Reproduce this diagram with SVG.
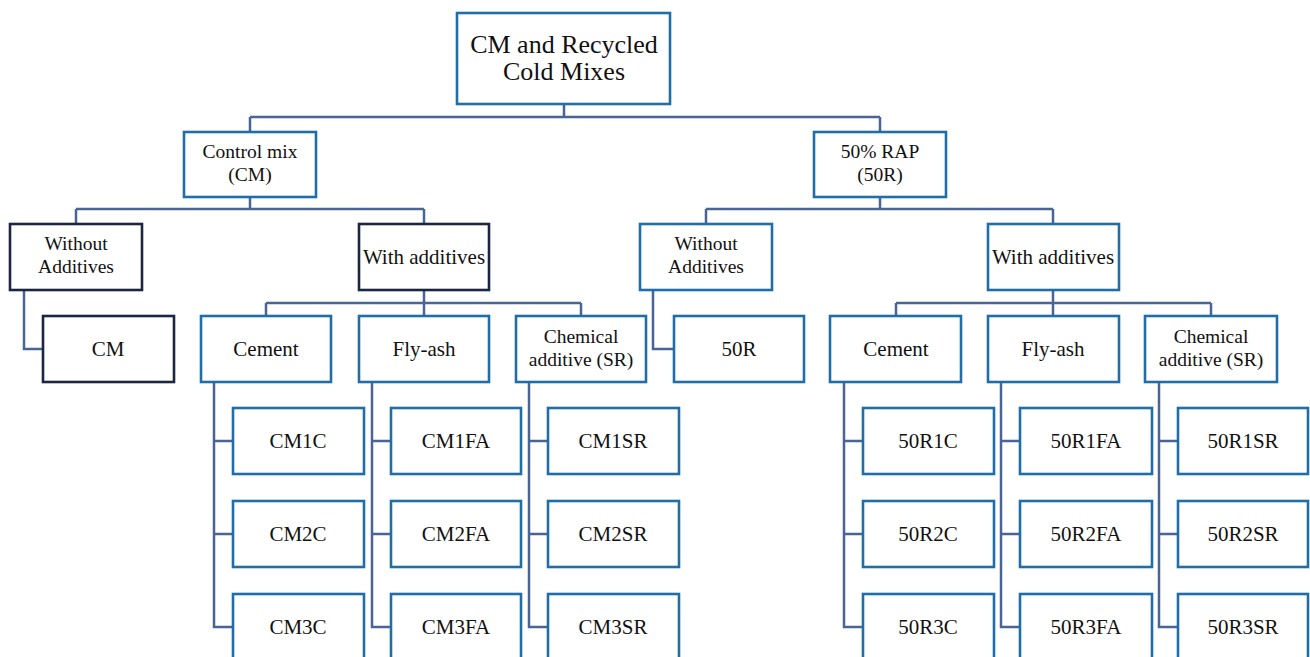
<svg xmlns="http://www.w3.org/2000/svg" width="1310" height="657" viewBox="0 0 1310 657">
<style>
  .b{fill:#fff;stroke:#1f6ea8;stroke-width:2.6}
  .d{fill:#fff;stroke:#1b2642;stroke-width:2.6}
  .c{fill:none;stroke:#4a6496;stroke-width:2.5}
  text{font-family:"Liberation Serif","Times New Roman",serif;font-size:21px;fill:#111;text-anchor:middle}
  .r{font-size:26px}
  .t{font-size:19.5px}
</style>
<rect width="1310" height="657" fill="#fff"/>
<g id="connectors">
  <path class="c" d="M564 104V117M250 117H880M250 117V132M880 117V132"/>
  <path class="c" d="M250 197V209M76 209H424M76 209V224M424 209V224"/>
  <path class="c" d="M880 197V209M706 209H1053M706 209V224M1053 209V224"/>
  <path class="c" d="M24 290V349H43"/>
  <path class="c" d="M653 290V349H674"/>
  <path class="c" d="M424 290V303M266 303H581M266 303V316M424 303V316M581 303V316"/>
  <path class="c" d="M1053 290V303M896 303H1211M896 303V316M1053 303V316M1211 303V316"/>
  <path class="c" d="M214 382V627H233M214 441H233M214 534H233"/>
  <path class="c" d="M372 382V627H391M372 441H391M372 534H391"/>
  <path class="c" d="M529 382V627H548M529 441H548M529 534H548"/>
  <path class="c" d="M844 382V627H863M844 441H863M844 534H863"/>
  <path class="c" d="M1001 382V627H1020M1001 441H1020M1001 534H1020"/>
  <path class="c" d="M1159 382V627H1178M1159 441H1178M1159 534H1178"/>
</g>
<g id="root"><rect class="b" x="457" y="13" width="213" height="91"/><text class="r" x="564" y="53">CM and Recycled</text><text class="r" x="564" y="80">Cold Mixes</text></g>
<g id="control"><rect class="b" x="184" y="132" width="132" height="65"/><text class="t" x="250" y="158">Control mix</text><text class="t" x="250" y="181">(CM)</text></g>
<g id="rap"><rect class="b" x="814" y="132" width="132" height="65"/><text class="t" x="880" y="158">50% RAP</text><text class="t" x="880" y="181">(50R)</text></g>
<g id="cm-without"><rect class="d" x="10" y="224" width="132" height="66"/><text class="t" x="76" y="250">Without</text><text class="t" x="76" y="273">Additives</text></g>
<g id="cm-with"><rect class="d" x="359" y="224" width="130" height="66"/><text x="424" y="264">With additives</text></g>
<g id="r-without"><rect class="b" x="640" y="224" width="132" height="66"/><text class="t" x="706" y="250">Without</text><text class="t" x="706" y="273">Additives</text></g>
<g id="r-with"><rect class="b" x="988" y="224" width="131" height="66"/><text x="1053" y="264">With additives</text></g>
<g id="cm"><rect class="d" x="43" y="316" width="131" height="66"/><text x="108" y="356">CM</text></g>
<g id="cm-cement"><rect class="b" x="201" y="316" width="130" height="66"/><text x="266" y="356">Cement</text></g>
<g id="cm-flyash"><rect class="b" x="359" y="316" width="130" height="66"/><text x="424" y="356">Fly-ash</text></g>
<g id="cm-chem"><rect class="b" x="516" y="316" width="130" height="66"/><text class="t" x="581" y="343">Chemical</text><text class="t" x="581" y="366">additive (SR)</text></g>
<g id="r50"><rect class="b" x="674" y="316" width="130" height="66"/><text x="739" y="356">50R</text></g>
<g id="r-cement"><rect class="b" x="830" y="316" width="131" height="66"/><text x="896" y="356">Cement</text></g>
<g id="r-flyash"><rect class="b" x="988" y="316" width="131" height="66"/><text x="1053" y="356">Fly-ash</text></g>
<g id="r-chem"><rect class="b" x="1145" y="316" width="132" height="66"/><text class="t" x="1211" y="343">Chemical</text><text class="t" x="1211" y="366">additive (SR)</text></g>
<g id="CM1C"><rect class="b" x="233" y="408" width="131" height="66"/><text x="298" y="448">CM1C</text></g>
<g id="CM2C"><rect class="b" x="233" y="501" width="131" height="66"/><text x="298" y="541">CM2C</text></g>
<g id="CM3C"><rect class="b" x="233" y="594" width="131" height="66"/><text x="298" y="634">CM3C</text></g>
<g id="CM1FA"><rect class="b" x="391" y="408" width="130" height="66"/><text x="456" y="448">CM1FA</text></g>
<g id="CM2FA"><rect class="b" x="391" y="501" width="130" height="66"/><text x="456" y="541">CM2FA</text></g>
<g id="CM3FA"><rect class="b" x="391" y="594" width="130" height="66"/><text x="456" y="634">CM3FA</text></g>
<g id="CM1SR"><rect class="b" x="548" y="408" width="131" height="66"/><text x="613" y="448">CM1SR</text></g>
<g id="CM2SR"><rect class="b" x="548" y="501" width="131" height="66"/><text x="613" y="541">CM2SR</text></g>
<g id="CM3SR"><rect class="b" x="548" y="594" width="131" height="66"/><text x="613" y="634">CM3SR</text></g>
<g id="R1C"><rect class="b" x="863" y="408" width="131" height="66"/><text x="928" y="448">50R1C</text></g>
<g id="R2C"><rect class="b" x="863" y="501" width="131" height="66"/><text x="928" y="541">50R2C</text></g>
<g id="R3C"><rect class="b" x="863" y="594" width="131" height="66"/><text x="928" y="634">50R3C</text></g>
<g id="R1FA"><rect class="b" x="1020" y="408" width="132" height="66"/><text x="1086" y="448">50R1FA</text></g>
<g id="R2FA"><rect class="b" x="1020" y="501" width="132" height="66"/><text x="1086" y="541">50R2FA</text></g>
<g id="R3FA"><rect class="b" x="1020" y="594" width="132" height="66"/><text x="1086" y="634">50R3FA</text></g>
<g id="R1SR"><rect class="b" x="1178" y="408" width="130" height="66"/><text x="1243" y="448">50R1SR</text></g>
<g id="R2SR"><rect class="b" x="1178" y="501" width="130" height="66"/><text x="1243" y="541">50R2SR</text></g>
<g id="R3SR"><rect class="b" x="1178" y="594" width="130" height="66"/><text x="1243" y="634">50R3SR</text></g>
</svg>
